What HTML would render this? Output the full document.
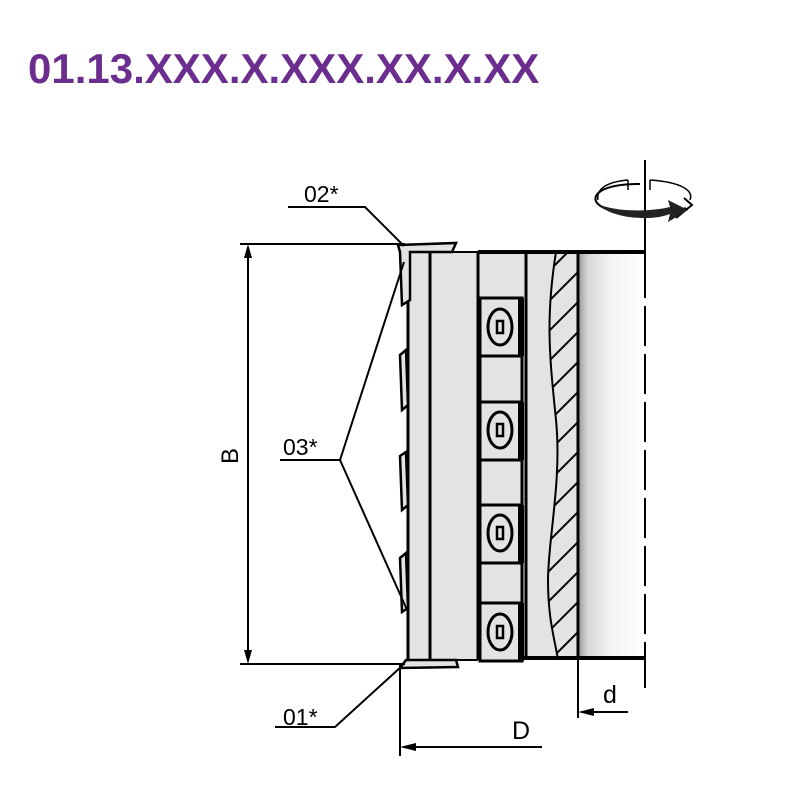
<!DOCTYPE html>
<html><head><meta charset="utf-8"><style>
html,body{margin:0;padding:0;background:#fff;}
svg{display:block}
</style></head><body>
<svg width="804" height="804" viewBox="0 0 804 804" xmlns="http://www.w3.org/2000/svg">
<defs>
<linearGradient id="cyl" x1="0" x2="1" y1="0" y2="0">
<stop offset="0" stop-color="#9a9a9a"/><stop offset="0.15" stop-color="#d8d8d8"/><stop offset="0.5" stop-color="#f4f4f4"/><stop offset="1" stop-color="#ffffff"/>
</linearGradient>
<clipPath id="hc"><path d="M556,252 C545,320 550,360 556,420 C562,480 548,540 548,580 C548,620 555,640 558,660 L578,660 L578,252 Z"/></clipPath>
</defs>
<text x="28" y="83" font-family="Liberation Sans, sans-serif" font-weight="bold" font-size="42" fill="#6b2d8e">01.13.XXX.X.XXX.XX.X.XX</text>

<rect x="408" y="252" width="172" height="408" fill="#e3e3e3"/>
<rect x="578" y="254" width="67" height="404" fill="url(#cyl)"/>
<g clip-path="url(#hc)" stroke="#000" stroke-width="2">
<path d="M520,300 L600,220 M520,330 L600,250 M520,360 L600,280 M520,390 L600,310 M520,420 L600,340 M520,450 L600,370 M520,480 L600,400 M520,510 L600,430 M520,540 L600,460 M520,570 L600,490 M520,600 L600,520 M520,630 L600,550 M520,660 L600,580 M520,690 L600,610 M520,720 L600,640 M520,750 L600,670"/>
</g>
<path d="M556,252 C545,320 550,360 556,420 C562,480 548,540 548,580 C548,620 555,640 558,660" fill="none" stroke="#000" stroke-width="2"/>
<g stroke="#000" fill="none">
<line x1="408" y1="252" x2="408" y2="660" stroke-width="3"/>
<line x1="430" y1="252" x2="430" y2="660" stroke-width="3"/>
<line x1="478" y1="252" x2="478" y2="660" stroke-width="3"/>
<line x1="526" y1="252" x2="526" y2="660" stroke-width="3"/>
<line x1="578" y1="252" x2="578" y2="660" stroke-width="3"/>
<line x1="478" y1="252" x2="645" y2="252" stroke-width="4"/>
<line x1="430" y1="252" x2="478" y2="252" stroke-width="2"/>
<line x1="478" y1="658" x2="645" y2="658" stroke-width="4"/>
<line x1="430" y1="660" x2="478" y2="660" stroke-width="2"/>
</g>
<g stroke="#000" stroke-width="3" fill="#e3e3e3">
<rect x="480" y="298" width="42" height="58"/>
<rect x="480" y="402" width="42" height="58"/>
<rect x="480" y="505" width="42" height="58"/>
<rect x="480" y="603" width="42" height="58"/>
<rect x="480" y="356" width="42" height="46"/>
<rect x="480" y="460" width="42" height="45"/>
<rect x="480" y="563" width="42" height="40"/>
</g>
<g fill="#000">
<rect x="518" y="298" width="6" height="58"/><rect x="518" y="402" width="6" height="58"/><rect x="518" y="505" width="6" height="58"/><rect x="518" y="603" width="6" height="58"/>
</g>
<g stroke="#000" stroke-width="3" fill="none">
<ellipse cx="500" cy="327" rx="12" ry="18"/><ellipse cx="500" cy="430" rx="12" ry="18"/><ellipse cx="500" cy="533" rx="12" ry="18"/><ellipse cx="500" cy="632" rx="12" ry="18"/>
<path d="M497,321 h6 v12 h-6 z M497,424 h6 v12 h-6 z M497,527 h6 v12 h-6 z M497,626 h6 v12 h-6 z" stroke-width="2.5"/>
</g>
<g stroke="#000" stroke-width="2.5" fill="#e3e3e3">
<path d="M398,245 L456,243 L452,252 L410,252 L410,300 L402,305 L400,252 Z"/>
<path d="M400,355 L406,350 L408,405 L402,410 Z"/>
<path d="M400,456 L406,452 L408,505 L402,510 Z"/>
<path d="M400,558 L406,553 L408,608 L402,612 Z"/>
<path d="M400,668 L406,660 L456,660 L458,667 Z"/>
</g>
<g stroke="#000" stroke-width="2">
<line x1="645" y1="160" x2="645" y2="258"/>
<line x1="645" y1="258" x2="645" y2="658" stroke-dasharray="40,8"/>
<line x1="645" y1="658" x2="645" y2="688"/>
</g>
<g>
<path d="M640,184 C600,184 590,196 598,204 C610,216 660,218 686,208 L676,218 L692,205 L684,198" fill="none" stroke="#000" stroke-width="2"/>
<path d="M598,204 C610,218 650,222 670,214 L668,222 L688,210 L668,200 L670,207 C650,212 615,212 598,204 Z" fill="#222"/>
<path d="M628,180 C605,182 596,190 598,200 M650,180 C680,182 694,190 690,200" fill="none" stroke="#000" stroke-width="1.5"/>
<path d="M628,180 L628,190 M650,180 L650,190" stroke="#000" stroke-width="1.5"/>
</g>
<g stroke="#000" stroke-width="2" fill="none">
<line x1="240" y1="244" x2="405" y2="244"/>
<line x1="240" y1="664" x2="405" y2="664"/>
<line x1="248" y1="250" x2="248" y2="658"/>
<line x1="400" y1="664" x2="400" y2="756"/>
<line x1="408" y1="747" x2="542" y2="747"/>
<line x1="578" y1="660" x2="578" y2="718"/>
<line x1="588" y1="712" x2="628" y2="712"/>
<polyline points="288,207 365,207 404,246"/>
<polyline points="280,460 340,460 404,262"/>
<line x1="340" y1="460" x2="408" y2="612"/>
<polyline points="275,727 335,727 402,666"/>
</g>
<g fill="#000">
<path d="M248,244 L244,258 L252,258 Z"/>
<path d="M248,664 L244,650 L252,650 Z"/>
<path d="M400,747 L416,743 L416,751 Z"/>
<path d="M578,712 L594,708 L594,716 Z"/>
</g>
<g font-family="Liberation Sans, sans-serif" font-size="23" fill="#000">
<text x="304" y="202">02*</text>
<text x="283" y="455">03*</text>
<text x="283" y="725">01*</text>
<text x="512" y="739" font-size="25">D</text>
<text x="603" y="703" font-size="25">d</text>
<text transform="translate(238,456) rotate(-90)" text-anchor="middle" font-size="24">B</text>
</g>
</svg>
</body></html>
